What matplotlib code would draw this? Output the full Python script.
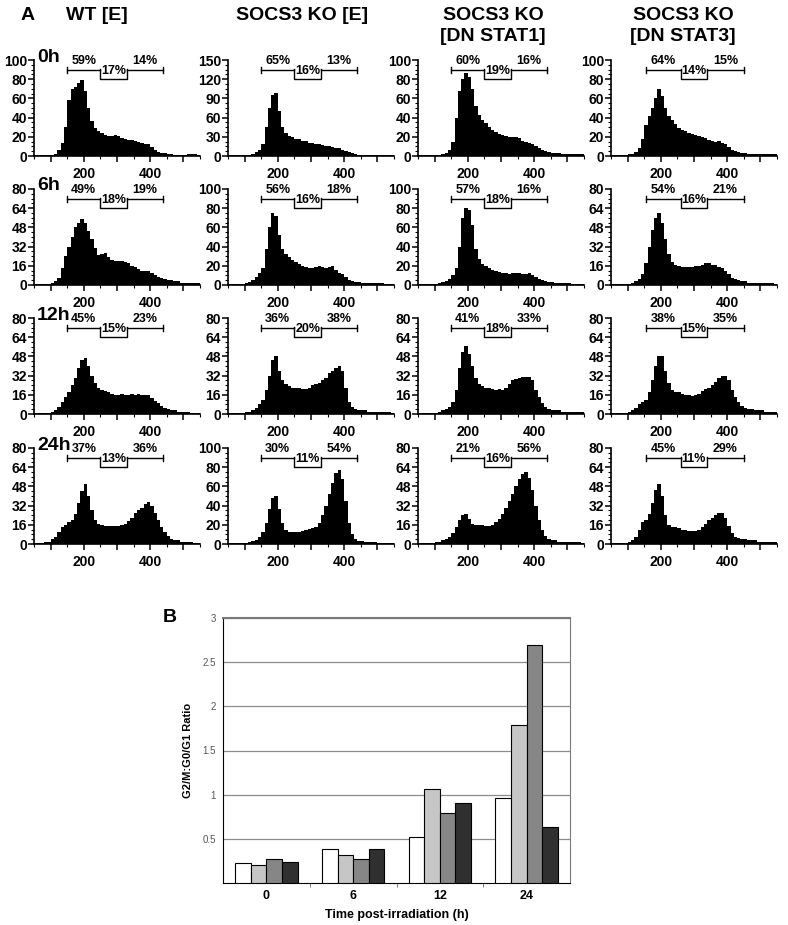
import numpy as np
import matplotlib
matplotlib.use("Agg")
import matplotlib.pyplot as plt
from matplotlib.transforms import blended_transform_factory
from matplotlib.ticker import MultipleLocator

plt.rcParams['font.family'] = ['Liberation Sans Narrow', 'Liberation Sans', 'DejaVu Sans']

# ==========================
# DATA - PANEL A (DNA content histograms, bin width 10, 50..550)
# ==========================
bin_centers = np.arange(55, 550, 10)

wt_0h = [1, 1, 1, 1, 1, 1, 2, 6, 14, 30, 58, 70, 72, 76, 79, 68, 50, 36, 29, 26,
         24, 22, 21, 21, 22, 21, 19, 18, 17, 17, 16, 15, 14, 13, 12, 9, 6, 4, 3, 3,
         2, 2, 1, 1, 1, 1, 2, 2, 2, 1]
ko_0h = [1, 1, 1, 1, 1, 1, 2, 3, 6, 9, 18, 45, 75, 95, 98, 70, 45, 36, 32, 30,
         27, 26, 24, 23, 21, 20, 19, 18, 17, 16, 15, 14, 13, 12, 10, 8, 6, 4, 3, 2,
         2, 1, 1, 1, 1, 1, 1, 1, 1, 1]
stat1_0h = [1, 1, 1, 1, 1, 1, 1, 2, 3, 6, 15, 40, 68, 80, 86, 82, 70, 52, 43, 38,
            34, 30, 27, 25, 23, 22, 21, 20, 20, 20, 19, 16, 15, 14, 12, 10, 8, 6, 5, 4,
            3, 3, 3, 2, 2, 2, 2, 2, 2, 2]
stat3_0h = [1, 1, 1, 1, 1, 2, 2, 4, 8, 18, 32, 42, 50, 60, 70, 62, 50, 42, 37, 33,
            29, 27, 26, 24, 23, 22, 21, 20, 19, 17, 16, 15, 16, 14, 12, 9, 6, 5, 4, 3,
            3, 2, 2, 2, 2, 2, 2, 2, 2, 2]

wt_6h = [1, 1, 1, 1, 1, 2, 3, 6, 14, 24, 32, 40, 48, 52, 55, 52, 45, 38, 31, 25,
         26, 27, 23, 21, 20, 20, 20, 19, 18, 16, 15, 13, 12, 12, 12, 10, 8, 7, 6, 5,
         4, 4, 3, 3, 2, 2, 2, 2, 2, 2]
ko_6h = [1, 1, 1, 1, 1, 2, 3, 5, 8, 13, 18, 38, 60, 75, 72, 52, 38, 32, 29, 26,
         24, 22, 20, 19, 18, 18, 19, 20, 19, 18, 19, 20, 16, 13, 11, 8, 5, 4, 3, 3,
         2, 2, 2, 2, 2, 2, 2, 1, 1, 1]
stat1_6h = [1, 1, 1, 1, 1, 1, 2, 3, 4, 6, 10, 18, 40, 70, 80, 78, 62, 38, 27, 22,
            20, 18, 16, 15, 14, 13, 12, 11, 12, 13, 12, 11, 11, 12, 10, 8, 6, 5, 4, 3,
            3, 2, 2, 2, 2, 2, 1, 1, 1, 1]
stat3_6h = [1, 1, 1, 1, 1, 1, 2, 3, 5, 9, 18, 32, 46, 56, 60, 52, 38, 26, 19, 17,
            16, 15, 15, 15, 15, 16, 16, 17, 18, 18, 17, 17, 15, 14, 12, 9, 6, 5, 4, 3,
            3, 2, 2, 2, 2, 2, 2, 2, 2, 1]

wt_12h = [1, 1, 1, 1, 1, 2, 3, 6, 10, 14, 18, 24, 30, 38, 45, 47, 40, 32, 26, 22,
          20, 19, 18, 17, 16, 16, 17, 16, 16, 17, 16, 17, 16, 16, 16, 13, 11, 9, 7, 5,
          4, 3, 3, 2, 2, 2, 2, 1, 1, 1]
ko_12h = [1, 1, 1, 1, 1, 2, 2, 3, 5, 8, 12, 20, 32, 45, 48, 36, 28, 25, 23, 22,
          22, 22, 21, 21, 22, 24, 25, 26, 28, 30, 34, 36, 38, 40, 36, 22, 10, 6, 4, 3,
          3, 3, 2, 2, 2, 2, 2, 2, 2, 1]
stat1_12h = [1, 1, 1, 1, 1, 1, 2, 3, 4, 6, 10, 20, 38, 52, 57, 50, 40, 30, 25, 23,
             22, 22, 21, 20, 21, 20, 22, 25, 28, 29, 30, 31, 31, 31, 28, 20, 14, 9, 6, 4,
             3, 3, 3, 2, 2, 2, 2, 2, 2, 2]
stat3_12h = [1, 1, 1, 1, 1, 2, 3, 5, 8, 10, 12, 18, 28, 40, 48, 48, 36, 26, 20, 18,
             18, 17, 16, 16, 15, 16, 17, 19, 21, 22, 24, 27, 30, 32, 32, 28, 20, 14, 10, 7,
             5, 4, 4, 3, 3, 3, 2, 2, 2, 2]

wt_24h = [1, 1, 1, 2, 2, 4, 6, 10, 14, 16, 18, 20, 25, 34, 44, 50, 40, 28, 20, 17,
          16, 15, 15, 15, 15, 15, 16, 17, 19, 22, 26, 28, 30, 33, 35, 32, 26, 20, 14, 10,
          7, 4, 3, 3, 2, 2, 2, 2, 1, 1]
ko_24h = [1, 1, 1, 1, 1, 1, 2, 3, 4, 7, 12, 22, 36, 48, 50, 36, 22, 15, 13, 12,
          12, 13, 14, 15, 16, 17, 18, 22, 30, 40, 52, 64, 74, 77, 68, 45, 22, 10, 5, 3,
          3, 2, 2, 2, 2, 1, 1, 1, 1, 1]
stat1_24h = [1, 1, 1, 1, 1, 2, 2, 3, 4, 6, 9, 14, 20, 24, 25, 21, 17, 16, 16, 16,
             15, 15, 16, 18, 21, 25, 30, 36, 42, 48, 54, 58, 60, 55, 45, 32, 20, 12, 7, 4,
             3, 3, 2, 2, 2, 2, 2, 2, 2, 1]
stat3_24h = [1, 1, 1, 1, 1, 2, 3, 6, 12, 18, 20, 25, 34, 45, 50, 40, 24, 16, 14, 14,
             13, 12, 12, 11, 11, 11, 12, 14, 17, 20, 22, 24, 26, 26, 22, 15, 9, 6, 5, 4,
             4, 3, 3, 3, 2, 2, 2, 2, 2, 2]

histograms = [
    [wt_0h, ko_0h, stat1_0h, stat3_0h],
    [wt_6h, ko_6h, stat1_6h, stat3_6h],
    [wt_12h, ko_12h, stat1_12h, stat3_12h],
    [wt_24h, ko_24h, stat1_24h, stat3_24h],
]

y_max = [
    [100, 150, 100, 100],
    [80, 100, 100, 80],
    [80, 80, 80, 80],
    [80, 100, 80, 80],
]

# G0/G1, S, G2/M percentages
percents = [
    [(59, 17, 14), (65, 16, 13), (60, 19, 16), (64, 14, 15)],
    [(49, 18, 19), (56, 16, 18), (57, 18, 16), (54, 16, 21)],
    [(45, 15, 23), (36, 20, 38), (41, 18, 33), (38, 15, 35)],
    [(37, 13, 36), (30, 11, 54), (21, 16, 56), (45, 11, 29)],
]

col_titles = ["WT [E]", "SOCS3 KO [E]", "SOCS3 KO\n[DN STAT1]", "SOCS3 KO\n[DN STAT3]"]
row_labels = ["0h", "6h", "12h", "24h"]

# gate boundaries per column
gates = [
    [150, 250, 330, 440],
    [150, 250, 330, 440],
    [150, 250, 330, 440],
    [155, 260, 338, 452],
]

# ==========================
# DATA - PANEL B
# ==========================
time_points = ["0", "6", "12", "24"]
ratio_wt = [0.23, 0.38, 0.52, 0.96]
ratio_ko = [0.20, 0.32, 1.06, 1.79]
ratio_stat1 = [0.27, 0.27, 0.79, 2.70]
ratio_stat3 = [0.24, 0.39, 0.91, 0.63]

# ==========================
# FIGURE
# ==========================
W, H = 788, 925
fig = plt.figure(figsize=(W / 100, H / 100), dpi=100)
SANS = ["Liberation Sans", "DejaVu Sans"]


def px_axes(left, top, width, height):
    return fig.add_axes([left / W, 1 - (top + height) / H, width / W, height / H])


col_left = [34, 228, 418, 611]
row_top = [60, 189, 318, 448]
ax_w, ax_h = 166, 96

for r in range(4):
    for c in range(4):
        ax = px_axes(col_left[c], row_top[r], ax_w, ax_h)
        ax.bar(bin_centers, histograms[r][c], width=10, color="black", linewidth=0)
        ax.set_xlim(50, 550)
        ym = y_max[r][c]
        ax.set_ylim(0, ym)
        ax.set_yticks(np.linspace(0, ym, 6))
        ax.yaxis.set_minor_locator(MultipleLocator(ym / 20))
        ax.set_xticks([100, 200, 300, 400, 500])
        ax.set_xticklabels(["", "200", "", "400", ""])
        ax.xaxis.set_minor_locator(MultipleLocator(50))
        for s in ["top", "right"]:
            ax.spines[s].set_visible(False)
        for s in ["left", "bottom"]:
            ax.spines[s].set_linewidth(1.2)
        ax.tick_params(axis="both", which="major", length=4, width=1.1,
                       labelsize=10, pad=1)
        ax.tick_params(axis="both", which="minor", length=2, width=0.8)
        ax.tick_params(axis="x", pad=4)
        for lab in ax.get_xticklabels() + ax.get_yticklabels():
            lab.set_fontweight("bold")

        # gate brackets and percentages
        tr = blended_transform_factory(ax.transData, ax.transAxes)
        g0, g1, g2, g3 = gates[c]
        p1, p2, p3 = percents[r][c]
        kw = dict(color="black", lw=1.0, transform=tr, clip_on=False)
        yb, ym2 = 0.895, 0.80
        ax.plot([g0, g1], [yb, yb], **kw)
        ax.plot([g2, g3], [yb, yb], **kw)
        for gx in [g0, g3]:
            ax.plot([gx, gx], [yb - 0.035, yb + 0.035], **kw)
        ax.plot([g1, g1, g2, g2], [yb + 0.015, ym2, ym2, yb + 0.015], **kw)
        ax.text((g0 + g1) / 2, 0.93, f"{p1}%", transform=tr, ha="center",
                va="bottom", fontsize=9, fontweight="bold")
        ax.text((g1 + g2) / 2, 0.825, f"{p2}%", transform=tr, ha="center",
                va="bottom", fontsize=9, fontweight="bold")
        ax.text((g2 + g3) / 2, 0.93, f"{p3}%", transform=tr, ha="center",
                va="bottom", fontsize=9, fontweight="bold")

# row labels
for r, lab in enumerate(row_labels):
    fig.text(37 / W, 1 - (row_top[r] - 3) / H, lab, fontsize=14, fontweight="bold",
             family=SANS, ha="left", va="center")

# column titles
title_x = [97, 302, 493, 683]
for c, t in enumerate(col_titles):
    fig.text(title_x[c] / W, 1 - 7 / H, t, fontsize=14, fontweight="bold",
             family=SANS, ha="center", va="top", linespacing=1.3)

fig.text(28 / W, 1 - 16 / H, "A", fontsize=14, fontweight="bold",
         family=SANS, ha="center", va="center")

# ==========================
# PANEL B
# ==========================
axb = px_axes(223, 618, 347, 265)
x = np.arange(len(time_points))
bw = 0.18
series = [ratio_wt, ratio_ko, ratio_stat1, ratio_stat3]
colors = ["white", "#c6c6c6", "#868686", "#303030"]
for i, (vals, col) in enumerate(zip(series, colors)):
    axb.bar(x + (i - 1.5) * bw, vals, width=bw, color=col, edgecolor="black",
            linewidth=0.8, zorder=3)

axb.set_xlim(-0.5, 3.5)
axb.set_ylim(0, 3)
axb.set_yticks([0.5, 1, 1.5, 2, 2.5, 3])
axb.set_yticklabels(["0.5", "1", "1.5", "2", "2.5", "3"])
axb.grid(axis="y", color="#8c8c8c", lw=0.9, zorder=0)
axb.set_xticks(x)
axb.set_xticklabels(time_points)
axb.set_xticks([0.5, 1.5, 2.5], minor=True)
axb.tick_params(axis="x", which="major", length=0, labelsize=9, pad=5)
axb.tick_params(axis="x", which="minor", length=3, color="#666666")
axb.tick_params(axis="y", length=0, labelsize=7, labelcolor="#555555", pad=5)
for lab in axb.get_xticklabels():
    lab.set_fontweight("bold")
    lab.set_family(SANS)
for lab in axb.get_yticklabels():
    lab.set_family(SANS)
axb.spines["left"].set_color("black")
axb.spines["bottom"].set_color("black")
axb.spines["top"].set_color("#7a7a7a")
axb.spines["top"].set_linewidth(1.5)
axb.spines["right"].set_color("#7a7a7a")
axb.spines["right"].set_linewidth(0.8)

axb.set_ylabel("G2/M:G0/G1 Ratio", fontsize=8, fontweight="bold",
               family=SANS, labelpad=7)
axb.set_xlabel("Time post-irradiation (h)", fontsize=9, fontweight="bold",
               family=SANS, labelpad=5)

fig.text(170 / W, 1 - 617 / H, "B", fontsize=14, fontweight="bold",
         family=SANS, ha="center", va="center")

fig.savefig("out.png", dpi=100)
